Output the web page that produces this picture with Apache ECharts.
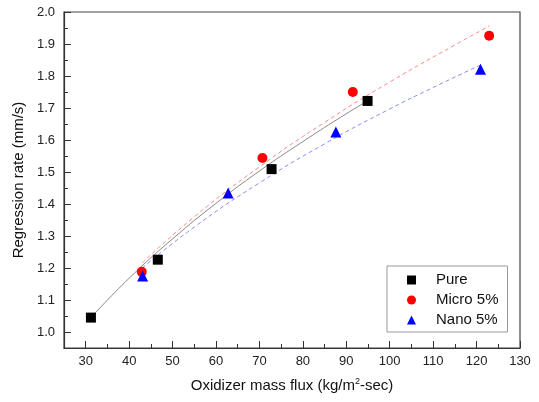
<!DOCTYPE html>
<html>
<head>
<meta charset="utf-8">
<script src="https://cdn.jsdelivr.net/npm/echarts@6/dist/echarts.min.js"></script>
<style>html,body{margin:0;padding:0;background:#fff;}#c{width:539px;height:402px;}</style>
</head>
<body>
<div id="c"></div>
<script>
// Measured data
var pureX = [31.2, 46.6, 72.8, 94.9];
var pureY = [1.045, 1.226, 1.509, 1.722];
var microX = [42.9, 70.7, 91.5, 122.9];
var microY = [1.188, 1.544, 1.750, 1.926];
var nanoX = [43.1, 62.8, 87.6, 120.9];
var nanoY = [1.175, 1.434, 1.625, 1.821];

// Fit curves
var pureFitX = [31.2, 40, 50, 60, 70, 80, 90, 94.9];
var pureFitY = [1.045, 1.168, 1.291, 1.402, 1.503, 1.595, 1.682, 1.722];
var microFitX = [43, 55, 70, 85, 100, 115, 123];
var microFitY = [1.216, 1.360, 1.516, 1.655, 1.781, 1.897, 1.957];
var nanoFitX = [43, 55, 70, 85, 100, 110, 121];
var nanoFitY = [1.200, 1.328, 1.466, 1.588, 1.697, 1.764, 1.835];

// Ticks
var xMajor = [30, 40, 50, 60, 70, 80, 90, 100, 110, 120, 130];
var xMinor = [35, 45, 55, 65, 75, 85, 95, 105, 115, 125];
var yMajor = [1.0, 1.1, 1.2, 1.3, 1.4, 1.5, 1.6, 1.7, 1.8, 1.9, 2.0];
var yMinor = [1.05, 1.15, 1.25, 1.35, 1.45, 1.55, 1.65, 1.75, 1.85, 1.95];

function zip(a, b) { return a.map(function (v, i) { return [v, b[i]]; }); }

var FONT = 'Liberation Sans, Arial, sans-serif';
var chart = echarts.init(document.getElementById('c'), null, { renderer: 'canvas' });
var axisLine = { show: true, onZero: false, lineStyle: { color: '#333', width: 1.2 } };
chart.setOption({
  animation: false,
  backgroundColor: '#fff',
  grid: { left: 64, right: 19, top: 12, bottom: 54, show: true, borderColor: '#444', borderWidth: 1.2, backgroundColor: 'transparent' },
  legend: {
    data: [
      { name: 'Pure', icon: 'rect', itemStyle: { color: '#000', opacity: 1 } },
      { name: 'Micro 5%', icon: 'circle', itemStyle: { color: '#ff0000', opacity: 1 } },
      { name: 'Nano 5%', icon: 'triangle', itemStyle: { color: '#0000ff', opacity: 1 } }
    ],
    orient: 'vertical',
    left: 387, top: 266,
    padding: [6, 9, 4, 20],
    itemWidth: 9, itemHeight: 9, itemGap: 4,
    borderColor: '#999', borderWidth: 1, borderRadius: 0,
    backgroundColor: '#fff',
    textStyle: { fontFamily: FONT, fontSize: 15, color: '#111', lineHeight: 16, padding: [0, 0, 0, 15] }
  },
  xAxis: [{
    type: 'value', min: 25, max: 130,
    axisLine: axisLine,
    axisTick: { show: true, inside: true, length: 7, customValues: xMajor, lineStyle: { color: '#333' } },
    axisLabel: { customValues: xMajor, fontFamily: FONT, fontSize: 13, color: '#222', margin: 7 },
    splitLine: { show: false },
    name: 'Oxidizer mass flux (kg/m{sup|2}-sec)',
    nameLocation: 'middle', nameGap: 29,
    nameTextStyle: { fontFamily: FONT, fontSize: 15, color: '#111', rich: { sup: { fontFamily: FONT, fontSize: 9, verticalAlign: 'top', padding: [0, 0, 8, 0], color: '#111' } } }
  }, {
    type: 'value', min: 25, max: 130, position: 'bottom',
    axisLine: { show: false },
    axisTick: { show: true, inside: true, length: 4, customValues: xMinor, lineStyle: { color: '#333' } },
    axisLabel: { show: false }, splitLine: { show: false }
  }],
  yAxis: [{
    type: 'value', min: 0.95, max: 2.0,
    axisLine: axisLine,
    axisTick: { show: true, inside: true, length: 7, customValues: yMajor, lineStyle: { color: '#333' } },
    axisLabel: { customValues: yMajor, fontFamily: FONT, fontSize: 13, color: '#222', margin: 9, formatter: function (v) { return v.toFixed(1); } },
    splitLine: { show: false },
    name: 'Regression rate (mm/s)',
    nameLocation: 'middle', nameGap: 36, nameRotate: 90,
    nameTextStyle: { fontFamily: FONT, fontSize: 15, color: '#111' }
  }, {
    type: 'value', min: 0.95, max: 2.0, position: 'left',
    axisLine: { show: false },
    axisTick: { show: true, inside: true, length: 4, customValues: yMinor, lineStyle: { color: '#333' } },
    axisLabel: { show: false }, splitLine: { show: false }
  }],
  series: [
    { name: 'pureFit', type: 'line', data: zip(pureFitX, pureFitY), smooth: true, showSymbol: false, symbol: 'none',
      lineStyle: { color: '#8a8a8a', width: 1 }, silent: true, z: 1 },
    { name: 'microFit', type: 'line', data: zip(microFitX, microFitY), smooth: true, showSymbol: false, symbol: 'none',
      lineStyle: { color: '#ff8c8c', width: 1, type: [4, 3] }, silent: true, z: 1 },
    { name: 'nanoFit', type: 'line', data: zip(nanoFitX, nanoFitY), smooth: true, showSymbol: false, symbol: 'none',
      lineStyle: { color: '#8c8cff', width: 1, type: [4, 3] }, silent: true, z: 1 },
    { name: 'Pure', type: 'scatter', data: zip(pureX, pureY), symbol: 'rect', symbolSize: 10, itemStyle: { color: '#000', opacity: 1 }, z: 3 },
    { name: 'Micro 5%', type: 'scatter', data: zip(microX, microY), symbol: 'circle', symbolSize: 10, itemStyle: { color: '#ff0000', opacity: 1 }, z: 3 },
    { name: 'Nano 5%', type: 'scatter', data: zip(nanoX, nanoY), symbol: 'triangle', symbolSize: 11, itemStyle: { color: '#0000ff', opacity: 1 }, z: 3 }
  ]
});
</script>
</body>
</html>
